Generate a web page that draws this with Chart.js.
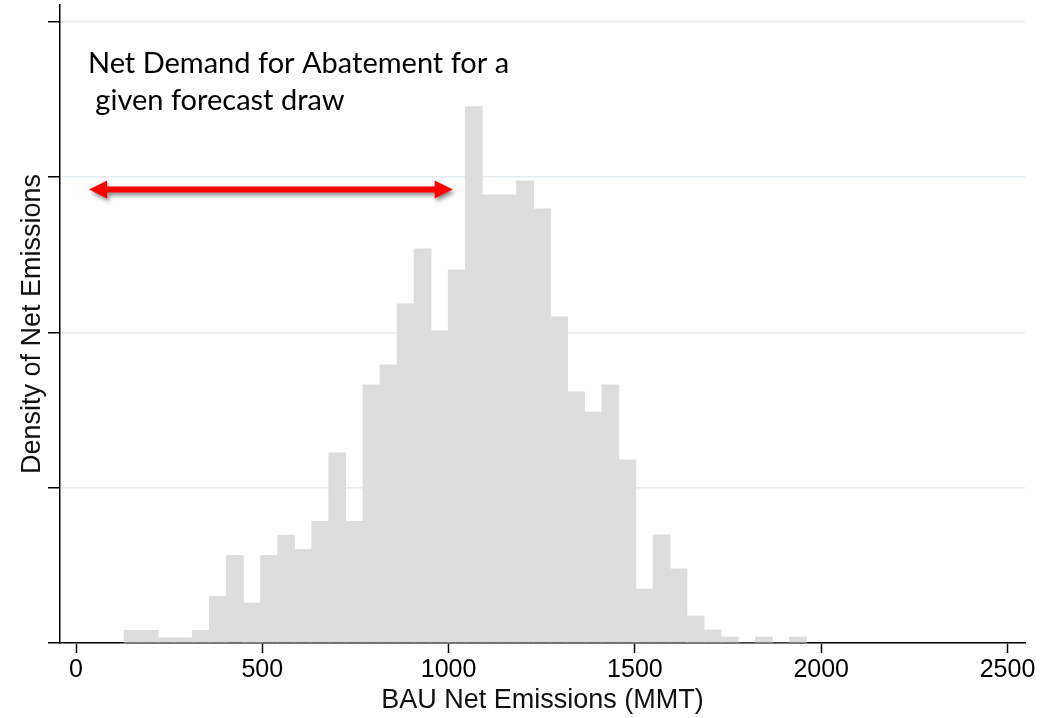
<!DOCTYPE html>
<html>
<head>
<meta charset="utf-8">
<title>BAU Net Emissions histogram</title>
<script src="https://cdn.jsdelivr.net/npm/chart.js@4/dist/chart.umd.min.js"></script>
<style>
  html, body { margin: 0; padding: 0; background: #ffffff; }
  #chart { display: block; }
</style>
</head>
<body>
<canvas id="chart" width="1053" height="718"></canvas>
<script>
// Histogram bins (bin centres in MMT) and their heights (density, in grid units)
const binCenters = [
  151.7, 197.5, 243.3, 289.1, 334.9, 380.7, 426.5, 472.2, 518.0, 563.8,
  609.6, 655.4, 701.2, 747.0, 792.8, 838.6, 884.4, 930.2, 976.0, 1021.8,
  1067.6, 1113.4, 1159.2, 1205.0, 1250.8, 1296.5, 1342.3, 1388.1, 1433.9, 1479.7,
  1525.5, 1571.3, 1617.1, 1662.9, 1708.7, 1754.5, 1800.3, 1846.1, 1891.9, 1937.7
]
const density = [
  0.082, 0.082, 0.034, 0.034, 0.082, 0.301, 0.565, 0.258, 0.565, 0.694,
  0.604, 0.784, 1.224, 0.784, 1.662, 1.791, 2.184, 2.539, 2.010, 2.403,
  3.454, 2.887, 2.887, 2.977, 2.796, 2.100, 1.617, 1.488, 1.662, 1.179,
  0.348, 0.696, 0.477, 0.174, 0.084, 0.039, 0, 0.039, 0, 0.039
]

// Axis ticks
const xTicks = [0, 500, 1000, 1500, 2000, 2500]
const yTicks = [0, 1, 2, 3, 4]

// Texts
const xTitle = "BAU Net Emissions (MMT)"
const yTitle = "Density of Net Emissions"
const noteLines = ["Net Demand for Abatement for a", " given forecast draw"]

// Annotation anchors, in data units
const noteX = 32
const noteY = [3.67, 3.43]
const arrowX = [35, 1011]
const arrowY = 2.92

const colors = {
  bar: "#dddddd",
  grid: "#e6edf1",
  axis: "#000000",
  arrow: "#ff0000",
  text: "#000000",
}

const axisFont = "'Liberation Sans', Arial, sans-serif"

// Draws the text note and the double arrow on top of the bars
const notePlugin = {
  id: "note",
  afterDatasetsDraw(chart) {
    const { ctx, scales } = chart
    const x = scales.x
    const y = scales.y

    ctx.save()
    ctx.fillStyle = colors.text
    ctx.font = "29px Lato, 'Open Sans', sans-serif"
    ctx.textAlign = "left"
    ctx.textBaseline = "alphabetic"
    noteLines.forEach((line, i) => {
      ctx.fillText(line, x.getPixelForValue(noteX), y.getPixelForValue(noteY[i]))
    })

    const x1 = x.getPixelForValue(arrowX[0])
    const x2 = x.getPixelForValue(arrowX[1])
    const ym = y.getPixelForValue(arrowY)
    const head = 18
    const half = 9
    const shaft = 3

    ctx.beginPath()
    ctx.moveTo(x1, ym)
    ctx.lineTo(x1 + head, ym - half)
    ctx.lineTo(x1 + head, ym - shaft)
    ctx.lineTo(x2 - head, ym - shaft)
    ctx.lineTo(x2 - head, ym - half)
    ctx.lineTo(x2, ym)
    ctx.lineTo(x2 - head, ym + half)
    ctx.lineTo(x2 - head, ym + shaft)
    ctx.lineTo(x1 + head, ym + shaft)
    ctx.lineTo(x1 + head, ym + half)
    ctx.closePath()
    ctx.shadowColor = "rgba(0, 0, 0, 0.45)"
    ctx.shadowBlur = 4
    ctx.shadowOffsetX = 2
    ctx.shadowOffsetY = 3
    ctx.fillStyle = colors.arrow
    ctx.fill()
    ctx.restore()
  },
}

new Chart(document.getElementById("chart").getContext("2d"), {
  type: "bar",
  data: {
    datasets: [
      {
        data: binCenters.map((c, i) => ({ x: c, y: density[i] })),
        backgroundColor: colors.bar,
        borderColor: colors.bar,
        borderWidth: 0,
        barPercentage: 1,
        categoryPercentage: 1,
      },
    ],
  },
  options: {
    responsive: false,
    animation: false,
    devicePixelRatio: 1,
    layout: { padding: { top: 5, right: 28, left: 0, bottom: 0 } },
    plugins: {
      legend: { display: false },
      tooltip: { enabled: false },
    },
    scales: {
      x: {
        type: "linear",
        offset: false,
        min: -43,
        max: 2547,
        afterBuildTicks: (s) => { s.ticks = xTicks.map((v) => ({ value: v })) },
        afterFit: (s) => { s.height = 75 },
        grid: {
          drawOnChartArea: false,
          drawTicks: true,
          tickLength: 10,
          tickColor: colors.axis,
          tickWidth: 1.5,
          offset: false,
        },
        border: { display: true, color: colors.axis, width: 1.5 },
        ticks: {
          color: colors.text,
          padding: 2,
          maxRotation: 0,
          autoSkip: false,
          font: { family: axisFont, size: 25 },
          callback: (v) => String(v),
        },
        title: {
          display: true,
          text: xTitle,
          color: "#111111",
          padding: { top: 0, bottom: 4 },
          font: { family: axisFont, size: 27, lineHeight: 1 },
        },
      },
      y: {
        min: 0,
        max: 4.109,
        afterBuildTicks: (s) => { s.ticks = yTicks.map((v) => ({ value: v })) },
        afterFit: (s) => { s.width = 60 },
        grid: {
          color: colors.grid,
          lineWidth: 1.5,
          drawTicks: true,
          tickLength: 12,
          tickColor: colors.axis,
          tickWidth: 1.5,
        },
        border: { display: true, color: colors.axis, width: 1.5 },
        ticks: { display: false },
        title: {
          display: true,
          text: yTitle,
          color: "#111111",
          padding: { top: 19, bottom: 0 },
          font: { family: axisFont, size: 27, lineHeight: 1 },
        },
      },
    },
  },
  plugins: [notePlugin],
})
</script>
</body>
</html>
